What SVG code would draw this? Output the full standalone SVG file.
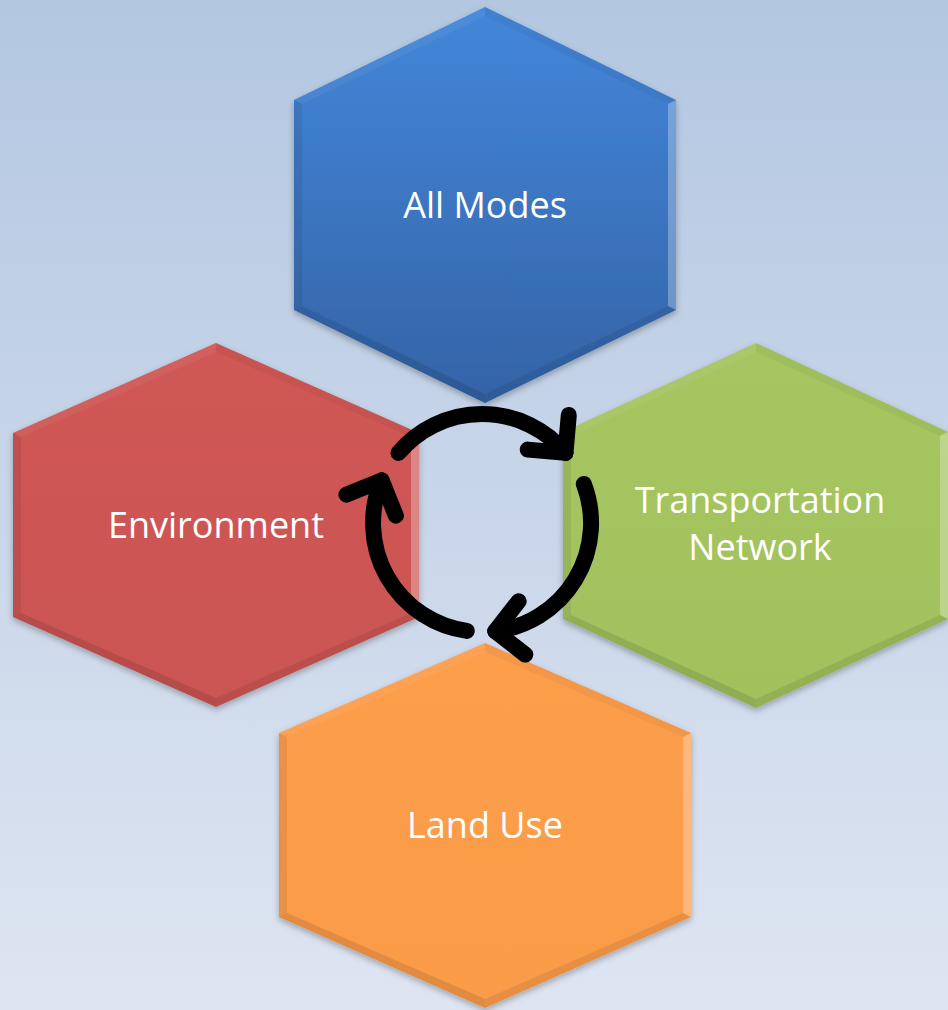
<svg xmlns="http://www.w3.org/2000/svg" width="948" height="1010" viewBox="0 0 948 1010">
  <defs>
    <linearGradient id="bg" x1="0" y1="0" x2="0" y2="1">
      <stop offset="0" stop-color="#b3c7e1"/>
      <stop offset="1" stop-color="#dee5f2"/>
    </linearGradient>
    <linearGradient id="gBlue" x1="0" y1="0" x2="0" y2="1">
      <stop offset="0" stop-color="#4387da"/>
      <stop offset="1" stop-color="#3463a6"/>
    </linearGradient>
    <linearGradient id="gRed" x1="0" y1="0" x2="0" y2="1">
      <stop offset="0" stop-color="#d05855"/>
      <stop offset="1" stop-color="#ca5552"/>
    </linearGradient>
    <linearGradient id="gGreen" x1="0" y1="0" x2="0" y2="1">
      <stop offset="0" stop-color="#a6c662"/>
      <stop offset="1" stop-color="#a0c15c"/>
    </linearGradient>
    <linearGradient id="gOrange" x1="0" y1="0" x2="0" y2="1">
      <stop offset="0" stop-color="#fd9e4c"/>
      <stop offset="1" stop-color="#fa9b48"/>
    </linearGradient>
    <filter id="shadow" x="-10%" y="-10%" width="120%" height="120%">
      <feDropShadow dx="0" dy="3" stdDeviation="3" flood-color="#000" flood-opacity="0.28"/>
    </filter>
  </defs>
  <style>
    .hex { filter: url(#shadow); }
    .tl { fill: #ffffff; fill-opacity: 0.05; }
    .tr { fill: #000000; fill-opacity: 0.04; }
    .r  { fill: #ffffff; fill-opacity: 0.28; }
    .br { fill: #000000; fill-opacity: 0.08; }
    .bl { fill: #000000; fill-opacity: 0.10; }
    .l  { fill: #000000; fill-opacity: 0.07; }
    .label { font-family: "Open Sans", "Liberation Sans", sans-serif; font-size: 36px; fill: #ffffff; text-anchor: middle; }
    .arc { fill: none; stroke: #000000; stroke-width: 16; stroke-linecap: round; stroke-linejoin: round; }
  </style>

  <rect x="0" y="0" width="948" height="1010" fill="url(#bg)"/>

  <g id="node-all-modes">
    <polygon class="hex" points="485,7 676,100 676,310 485,403 294,310 294,100" fill="url(#gBlue)"/>
    <polygon class="tl" points="485,7 294,100 302,104 485,16"/>
    <polygon class="tr" points="485,7 676,100 668,104 485,16"/>
    <polygon class="r" points="676,100 676,310 668,306 668,104"/>
    <polygon class="br" points="676,310 485,403 485,394 668,306"/>
    <polygon class="bl" points="485,403 294,310 302,306 485,394"/>
    <polygon class="l" points="294,310 294,100 302,104 302,306"/>
    <text class="label" x="485" y="218">All Modes</text>
  </g>

  <g id="node-environment">
    <polygon class="hex" points="216,343 419,433 419,617 216,707 13,617 13,433" fill="url(#gRed)"/>
    <polygon class="tl" points="216,343 13,433 21,437 216,352"/>
    <polygon class="tr" points="216,343 419,433 411,437 216,352"/>
    <polygon class="r" points="419,433 419,617 411,613 411,437"/>
    <polygon class="br" points="419,617 216,707 216,698 411,613"/>
    <polygon class="bl" points="216,707 13,617 21,613 216,698"/>
    <polygon class="l" points="13,617 13,433 21,437 21,613"/>
    <text class="label" x="216" y="538">Environment</text>
  </g>

  <g id="node-transportation-network">
    <polygon class="hex" points="756,343 948,432 948,619 756,708 563,619 563,432" fill="url(#gGreen)"/>
    <polygon class="tl" points="756,343 563,432 571,436 756,352"/>
    <polygon class="tr" points="756,343 948,432 940,436 756,352"/>
    <polygon class="r" points="948,432 948,619 940,615 940,436"/>
    <polygon class="br" points="948,619 756,708 756,699 940,615"/>
    <polygon class="bl" points="756,708 563,619 571,615 756,699"/>
    <polygon class="l" points="563,619 563,432 571,436 571,615"/>
    <text class="label" x="760" y="513">Transportation</text>
    <text class="label" x="760" y="560">Network</text>
  </g>

  <g id="node-land-use">
    <polygon class="hex" points="485,643 691,733 691,917 485,1008 279,917 279,733" fill="url(#gOrange)"/>
    <polygon class="tl" points="485,643 279,733 287,737 485,652"/>
    <polygon class="tr" points="485,643 691,733 683,737 485,652"/>
    <polygon class="r" points="691,733 691,917 683,913 683,737"/>
    <polygon class="br" points="691,917 485,1008 485,999 683,913"/>
    <polygon class="bl" points="485,1008 279,917 287,913 485,999"/>
    <polygon class="l" points="279,917 279,733 287,737 287,913"/>
    <text class="label" x="485" y="838">Land Use</text>
  </g>

  <g id="connectors">
    <path class="arc" d="M398.5,452.9 A109,109 0 0 1 565.5,452.9"/>
    <polyline class="arc" points="568.8,415 565.5,452.9 527.7,449.6"/>
    <path class="arc" d="M583.8,483.9 A109,109 0 0 1 495.3,631.2"/>
    <polyline class="arc" points="518.7,601.2 495.3,631.2 525.3,654.6"/>
    <path class="arc" d="M466.8,630.9 A109,109 0 0 1 381.7,480.4"/>
    <polyline class="arc" points="346.4,494.6 381.7,480.4 395.9,515.7"/>
  </g>
</svg>
